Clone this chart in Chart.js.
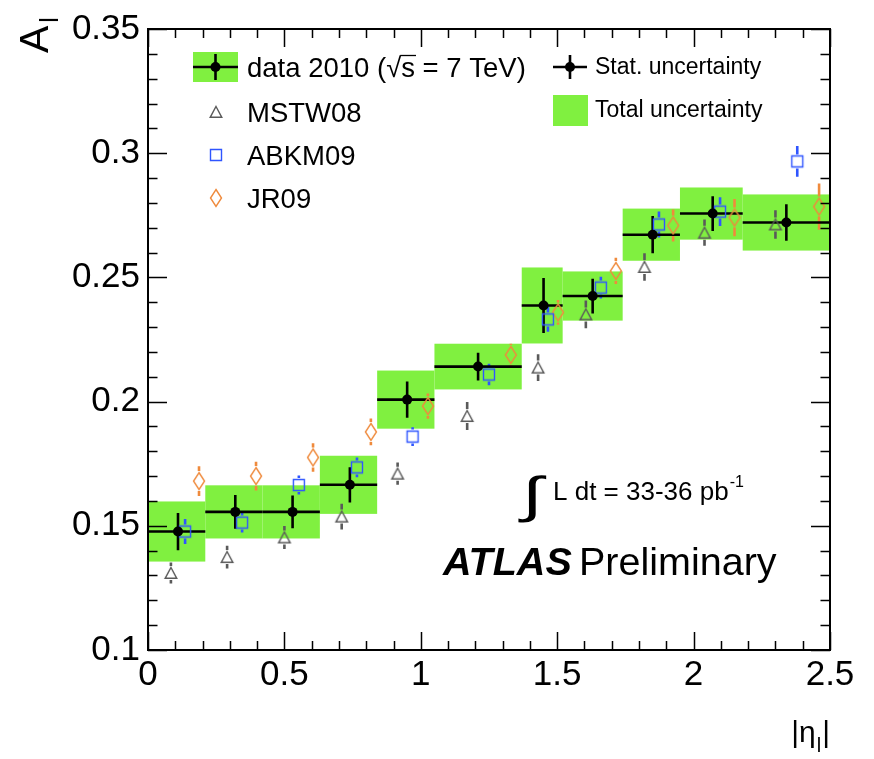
<!DOCTYPE html>
<html>
<head>
<meta charset="utf-8">
<title>W lepton charge asymmetry</title>
<script src="https://cdn.jsdelivr.net/npm/chart.js@4.4.1/dist/chart.umd.min.js"></script>
<style>
  html, body { margin: 0; padding: 0; background: #fff; }
  #asymChart { display: block; }
</style>
</head>
<body>
<canvas id="asymChart" width="874" height="759"></canvas>
<script>
// |eta| bin edges of the measurement
const etaEdges = [0, 0.21, 0.42, 0.63, 0.84, 1.05, 1.37, 1.52, 1.74, 1.95, 2.18, 2.5];

// measured asymmetry (points placed at the bin mean)
const dataEta  = [0.11, 0.32, 0.53, 0.74, 0.95, 1.21, 1.45, 1.63, 1.85, 2.07, 2.34];
const dataAsym = [0.1477, 0.1556, 0.1556, 0.1665, 0.2008, 0.2141, 0.2387, 0.2425, 0.2672, 0.2757, 0.2721];
const statErr  = [0.0075, 0.0068, 0.0066, 0.0071, 0.0073, 0.0056, 0.0111, 0.0070, 0.0075, 0.0070, 0.0073];
const totalErr = [0.0121, 0.0107, 0.0107, 0.0117, 0.0117, 0.0092, 0.0153, 0.0099, 0.0105, 0.0105, 0.0113];

// PDF set predictions
const mstwEta  = [0.084, 0.29, 0.50, 0.71, 0.915, 1.17, 1.43, 1.605, 1.82, 2.04, 2.30];
const mstwAsym = [0.1310, 0.1374, 0.1453, 0.1537, 0.1710, 0.1942, 0.2137, 0.2351, 0.2542, 0.2680, 0.2713];
const mstwErr  = [0.0042, 0.0046, 0.0046, 0.0052, 0.0045, 0.0056, 0.0054, 0.0056, 0.0055, 0.0053, 0.0057];

const abkmEta  = [0.136, 0.345, 0.553, 0.766, 0.97, 1.25, 1.466, 1.66, 1.873, 2.097, 2.38];
const abkmAsym = [0.1477, 0.1513, 0.1664, 0.1735, 0.1859, 0.2109, 0.2331, 0.2459, 0.2713, 0.2765, 0.2967];
const abkmErr  = [0.0050, 0.0040, 0.0038, 0.0040, 0.0038, 0.0043, 0.0050, 0.0044, 0.0052, 0.0058, 0.0062];

const jrEta  = [0.187, 0.396, 0.605, 0.817, 1.026, 1.33, 1.503, 1.715, 1.925, 2.15, 2.46];
const jrAsym = [0.1680, 0.1700, 0.1775, 0.1878, 0.1982, 0.2188, 0.2359, 0.2526, 0.2709, 0.2741, 0.2785];
const jrErr  = [0.0060, 0.0058, 0.0057, 0.0054, 0.0051, 0.0045, 0.0050, 0.0053, 0.0064, 0.0075, 0.0093];

// axis labels
const xTickValues = [0, 0.5, 1, 1.5, 2, 2.5];
const yTickValues = [0.1, 0.15, 0.2, 0.25, 0.3, 0.35];

const FONT = "'Liberation Sans', Arial, Helvetica, sans-serif";
const GREEN = 'rgb(128, 240, 64)';
const GREY = '#5a5a5a';
const BLUE = '#2f55ff';
const ORANGE = '#ef8a3c';

// open ROOT-like markers, drawn once on small canvases
function openMarker(kind, color) {
  const c = document.createElement('canvas');
  const g = c.getContext('2d');
  if (kind === 'diamond') { c.width = 14; c.height = 20; } else { c.width = 16; c.height = 16; }
  g.strokeStyle = color;
  g.lineWidth = 1.4;
  g.beginPath();
  if (kind === 'triangle') {
    g.moveTo(8, 2.5); g.lineTo(13.8, 13.3); g.lineTo(2.2, 13.3); g.closePath();
  } else if (kind === 'square') {
    g.rect(2.5, 2.5, 11, 11);
  } else {
    g.moveTo(7, 1.5); g.lineTo(12.5, 10); g.lineTo(7, 18.5); g.lineTo(1.5, 10); g.closePath();
  }
  g.stroke();
  return c;
}

const triMarker = openMarker('triangle', GREY);
const sqMarker = openMarker('square', BLUE);
const diaMarker = openMarker('diamond', ORANGE);

const toPoints = (xs, ys) => xs.map((x, i) => ({ x, y: ys[i] }));

const predictions = [
  { eta: mstwEta, asym: mstwAsym, err: mstwErr, color: GREY, gap: 7 },
  { eta: abkmEta, asym: abkmAsym, err: abkmErr, color: BLUE, gap: 7 },
  { eta: jrEta, asym: jrAsym, err: jrErr, color: ORANGE, gap: 10 }
];

// green total-uncertainty boxes plus all error bars, under the markers
const errorBands = {
  id: 'errorBands',
  beforeDatasetsDraw(chart) {
    const { ctx, scales: { x, y } } = chart;
    ctx.save();
    ctx.fillStyle = GREEN;
    dataAsym.forEach((a, i) => {
      const x0 = x.getPixelForValue(etaEdges[i]);
      const x1 = x.getPixelForValue(etaEdges[i + 1]);
      const y0 = y.getPixelForValue(a + totalErr[i]);
      const y1 = y.getPixelForValue(a - totalErr[i]);
      ctx.fillRect(x0, y0, x1 - x0, y1 - y0);
    });

    ctx.lineWidth = 2.6;
    predictions.forEach(p => {
      ctx.strokeStyle = p.color;
      p.eta.forEach((e, i) => {
        const px = x.getPixelForValue(e);
        const pc = y.getPixelForValue(p.asym[i]);
        const hi = y.getPixelForValue(p.asym[i] + p.err[i]);
        const lo = y.getPixelForValue(p.asym[i] - p.err[i]);
        ctx.beginPath();
        if (pc - hi > p.gap) { ctx.moveTo(px, hi); ctx.lineTo(px, pc - p.gap); }
        if (lo - pc > p.gap) { ctx.moveTo(px, pc + p.gap); ctx.lineTo(px, lo); }
        ctx.stroke();
      });
    });

    ctx.strokeStyle = '#000';
    ctx.lineWidth = 2.6;
    dataAsym.forEach((a, i) => {
      const py = y.getPixelForValue(a);
      const px = x.getPixelForValue(dataEta[i]);
      ctx.beginPath();
      ctx.moveTo(x.getPixelForValue(etaEdges[i]), py);
      ctx.lineTo(x.getPixelForValue(etaEdges[i + 1]), py);
      ctx.moveTo(px, y.getPixelForValue(a + statErr[i]));
      ctx.lineTo(px, y.getPixelForValue(a - statErr[i]));
      ctx.stroke();
    });
    ctx.restore();
  }
};

// frame with inward ticks on all four sides
const rootFrame = {
  id: 'rootFrame',
  afterDatasetsDraw(chart) {
    const { ctx, chartArea: a, scales: { x, y } } = chart;
    ctx.save();
    ctx.strokeStyle = '#000';
    ctx.lineWidth = 1.5;
    ctx.beginPath();
    for (let k = 10; k <= 35; k++) {
      const py = Math.round(y.getPixelForValue(k / 100)) + 0.5;
      const len = k % 5 === 0 ? 19 : 9.5;
      ctx.moveTo(a.left, py); ctx.lineTo(a.left + len, py);
      ctx.moveTo(a.right, py); ctx.lineTo(a.right - len, py);
    }
    for (let k = 0; k <= 25; k++) {
      const px = Math.round(x.getPixelForValue(k / 10)) + 0.5;
      const len = k % 5 === 0 ? 18 : 9;
      ctx.moveTo(px, a.bottom); ctx.lineTo(px, a.bottom - len);
      ctx.moveTo(px, a.top); ctx.lineTo(px, a.top + len);
    }
    ctx.stroke();
    ctx.lineWidth = 2;
    ctx.strokeRect(a.left, a.top, a.right - a.left, a.bottom - a.top);
    ctx.restore();
  }
};

function cross(ctx, cx, cy, halfW, halfH) {
  ctx.strokeStyle = '#000';
  ctx.lineWidth = 2.6;
  ctx.beginPath();
  ctx.moveTo(cx - halfW, cy); ctx.lineTo(cx + halfW, cy);
  ctx.moveTo(cx, cy - halfH); ctx.lineTo(cx, cy + halfH);
  ctx.stroke();
  ctx.fillStyle = '#000';
  ctx.beginPath();
  ctx.arc(cx, cy, 5, 0, Math.PI * 2);
  ctx.fill();
}

// legend, axis titles and labels
const annotations = {
  id: 'annotations',
  afterDraw(chart) {
    const { ctx } = chart;
    ctx.save();
    ctx.textBaseline = 'alphabetic';
    ctx.textAlign = 'left';
    ctx.fillStyle = '#000';

    // left legend block
    ctx.fillStyle = GREEN;
    ctx.fillRect(193, 52, 45, 30);
    cross(ctx, 215.5, 67, 22.5, 13);
    ctx.fillStyle = '#000';
    ctx.font = '27.5px ' + FONT;
    const head = 'data 2010 (\u221A';
    ctx.fillText(head + 's = 7 TeV)', 247, 76.5);
    const sx = 247 + ctx.measureText(head).width;
    const sw = ctx.measureText('s').width;
    ctx.lineWidth = 1.3;
    ctx.strokeStyle = '#000';
    ctx.beginPath();
    ctx.moveTo(sx - 1, 55.5); ctx.lineTo(sx + sw + 1, 55.5);
    ctx.stroke();

    const rows = [['MSTW08', triMarker, 112], ['ABKM09', sqMarker, 155], ['JR09', diaMarker, 198]];
    rows.forEach(([label, img, cy]) => {
      ctx.drawImage(img, 216 - img.width / 2, cy - img.height / 2);
      ctx.fillText(label, 247, cy + 9.8);
    });

    // right legend block
    cross(ctx, 570, 67, 17, 12);
    ctx.fillStyle = GREEN;
    ctx.fillRect(553, 95, 35, 31);
    ctx.fillStyle = '#000';
    ctx.font = '23px ' + FONT;
    ctx.fillText('Stat. uncertainty', 595, 74);
    ctx.fillText('Total uncertainty', 595, 117);

    // luminosity
    ctx.font = '50px ' + FONT;
    ctx.save();
    ctx.translate(522, 512);
    ctx.scale(1.5, 1);
    ctx.fillText('\u222B', 0, 0);
    ctx.restore();
    ctx.font = '26px ' + FONT;
    const lumi = 'L dt = 33-36 pb';
    ctx.fillText(lumi, 553, 500);
    const lw = ctx.measureText(lumi).width;
    ctx.font = '16px ' + FONT;
    ctx.fillText('-1', 553 + lw + 1, 487);

    // experiment label
    ctx.font = 'italic bold 39.5px ' + FONT;
    ctx.fillText('ATLAS', 443, 575);
    ctx.font = '39.5px ' + FONT;
    ctx.fillText('Preliminary', 579, 575);

    // y-axis title A_l, rotated
    ctx.save();
    ctx.translate(48, 53);
    ctx.rotate(-Math.PI / 2);
    ctx.font = '41px ' + FONT;
    ctx.fillText('A', 0, 0);
    const aw = ctx.measureText('A').width;
    ctx.font = '25px ' + FONT;
    ctx.fillText('l', aw + 3, 10);
    ctx.restore();

    // x-axis title |eta_l|, right aligned to the axis end
    const right = chart.chartArea.right;
    ctx.font = '30px ' + FONT;
    const w1 = ctx.measureText('|\u03B7').width;
    const w3 = ctx.measureText('|').width;
    ctx.font = '20px ' + FONT;
    const w2 = ctx.measureText('l').width;
    const x0 = right - (w1 + w2 + 2 + w3);
    ctx.font = '30px ' + FONT;
    ctx.fillText('|\u03B7', x0, 742);
    ctx.fillText('|', x0 + w1 + w2 + 2, 742);
    ctx.font = '20px ' + FONT;
    ctx.fillText('l', x0 + w1 + 1, 752);
    ctx.restore();
  }
};

Chart.defaults.font.family = FONT;
Chart.defaults.color = '#000';

new Chart(document.getElementById('asymChart'), {
  type: 'scatter',
  data: {
    datasets: [
      { label: 'data 2010', data: toPoints(dataEta, dataAsym), pointStyle: 'circle', pointRadius: 5, backgroundColor: '#000', borderWidth: 0 },
      { label: 'MSTW08', data: toPoints(mstwEta, mstwAsym), pointStyle: triMarker, pointRadius: 6 },
      { label: 'ABKM09', data: toPoints(abkmEta, abkmAsym), pointStyle: sqMarker, pointRadius: 6 },
      { label: 'JR09', data: toPoints(jrEta, jrAsym), pointStyle: diaMarker, pointRadius: 6 }
    ]
  },
  options: {
    responsive: false,
    animation: false,
    events: [],
    layout: { padding: { top: 21, right: 44, left: 0, bottom: 0 } },
    plugins: { legend: { display: false }, tooltip: { enabled: false } },
    scales: {
      x: {
        type: 'linear', min: 0, max: 2.5,
        afterBuildTicks: s => { s.ticks = xTickValues.map(v => ({ value: v })); },
        afterFit: s => { s.height = 109; },
        grid: { display: false, drawTicks: false },
        border: { display: false },
        ticks: { font: { size: 35 }, padding: 4, maxRotation: 0, autoSkip: false, callback: v => String(v) }
      },
      y: {
        type: 'linear', min: 0.1, max: 0.35,
        afterBuildTicks: s => { s.ticks = yTickValues.map(v => ({ value: v })); },
        afterFit: s => { s.width = 148; },
        grid: { display: false, drawTicks: false },
        border: { display: false },
        ticks: { font: { size: 35 }, padding: 8, autoSkip: false, callback: v => String(+v.toFixed(2)) }
      }
    }
  },
  plugins: [errorBands, rootFrame, annotations]
});
</script>
</body>
</html>
